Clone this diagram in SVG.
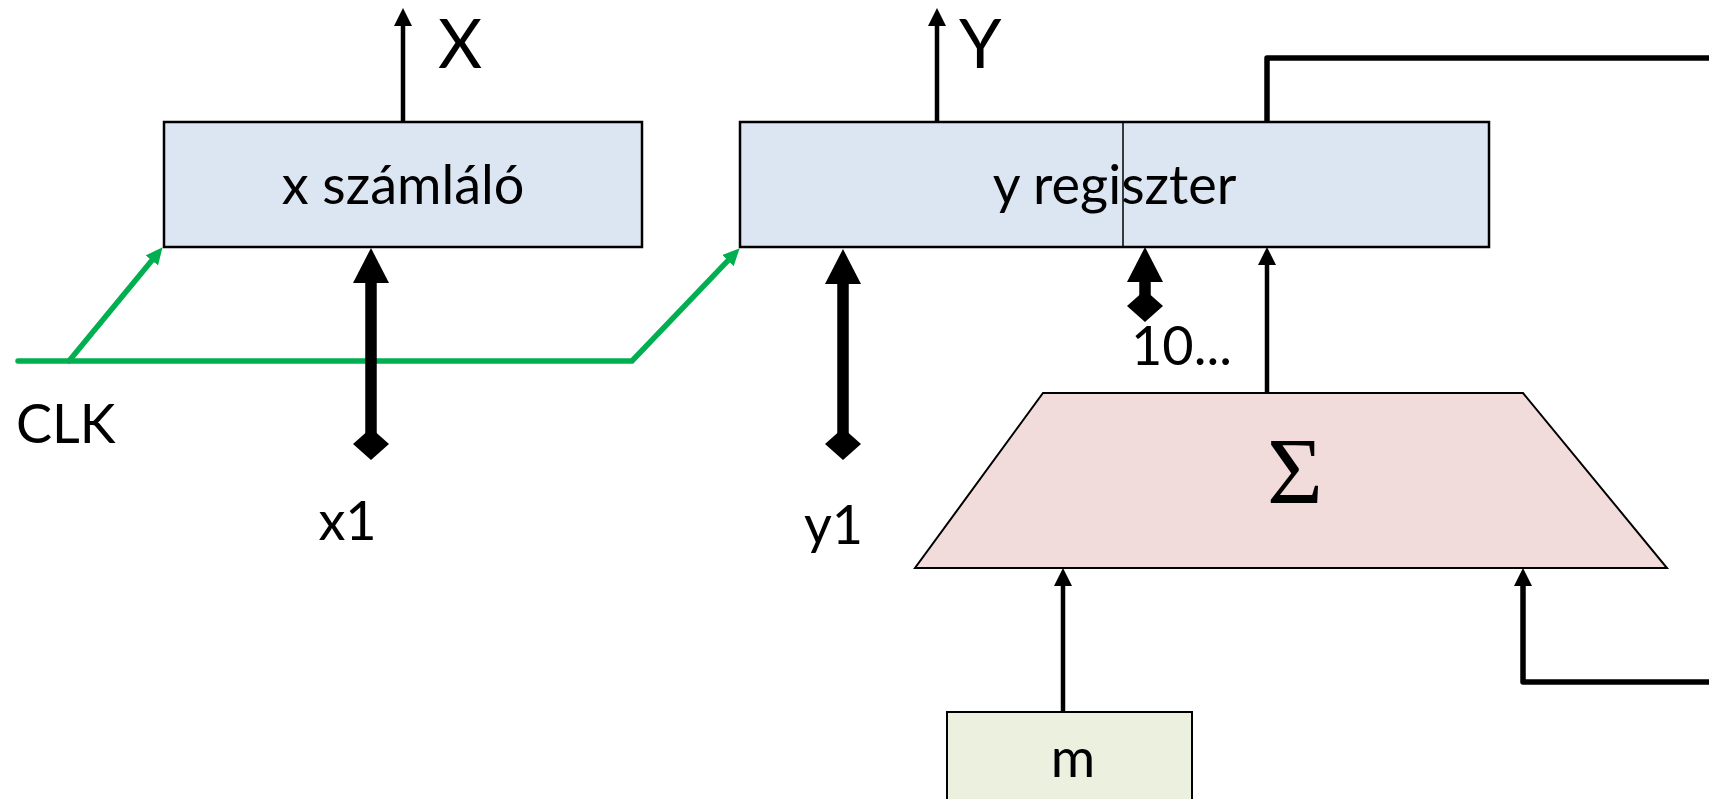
<svg xmlns="http://www.w3.org/2000/svg" width="1709" height="799" viewBox="0 0 1709 799">
<style>
.box{fill:#DCE6F2;stroke:#000;stroke-width:2.5}
.txt{font-family:Lato,"Open Sans","Liberation Sans",sans-serif;font-size:54px;fill:#000}
.big{font-family:Lato,"Open Sans","Liberation Sans",sans-serif;font-size:68px;fill:#000}
.thin{fill:none;stroke:#000;stroke-width:4.5}
.heavy{fill:none;stroke:#000;stroke-width:5.5;stroke-linejoin:round}
.bus{fill:none;stroke:#000;stroke-width:11.5}
.clk{fill:none;stroke:#00B050;stroke-width:5.5;stroke-linecap:round}
</style>
<defs>
<marker id="arS" markerUnits="userSpaceOnUse" markerWidth="18" markerHeight="18" viewBox="0 0 18 18" refX="0" refY="9" orient="auto"><path d="M0,0 L18,9 L0,18 Z" fill="#000"/></marker>
<marker id="arL" markerUnits="userSpaceOnUse" markerWidth="35" markerHeight="36" viewBox="0 0 35 36" refX="0" refY="18" orient="auto"><path d="M0,0 L35,18 L0,36 Z" fill="#000"/></marker>
<marker id="diaL" markerUnits="userSpaceOnUse" markerWidth="32" markerHeight="36" viewBox="0 0 32 36" refX="16" refY="18" orient="auto"><path d="M0,18 L16,0 L32,18 L16,36 Z" fill="#000"/></marker>
<marker id="arG" markerUnits="userSpaceOnUse" markerWidth="17" markerHeight="16" viewBox="0 0 17 16" refX="0" refY="8" orient="auto"><path d="M0,0 L17,8 L0,16 Z" fill="#00B050"/></marker>
</defs>

<g id="x-counter">
<rect class="box" x="164" y="122" width="478" height="125"/>
<text class="txt" x="403" y="204" text-anchor="middle">x számláló</text>
</g>

<g id="y-register">
<rect class="box" x="740" y="122" width="749" height="125"/>
<line x1="1123" y1="122" x2="1123" y2="247" stroke="#000" stroke-width="1.5"/>
<text class="txt" x="1114.5" y="204" text-anchor="middle">y regiszter</text>
</g>

<g id="adder">
<polygon points="1043,393 1523,393 1667,568 915,568" fill="#F2DCDB" stroke="#000" stroke-width="2"/>
<text x="1295" y="504" text-anchor="middle" font-family="'Liberation Serif','DejaVu Serif',serif" font-size="96">Σ</text>
</g>

<g id="m-const">
<rect x="947" y="712" width="245" height="100" fill="#EBF1DE" stroke="#000" stroke-width="2"/>
<text class="txt" x="1073" y="777" text-anchor="middle">m</text>
</g>

<g id="labels">
<text class="big" x="438" y="68">X</text>
<text class="big" x="959" y="68">Y</text>
<text class="txt" x="16" y="443">CLK</text>
<text class="txt" x="347.5" y="540" text-anchor="middle">x1</text>
<text class="txt" x="833.5" y="544" text-anchor="middle">y1</text>
<text class="txt" x="1131" y="365">10...</text>
</g>

<g id="connectors">
<path class="clk" d="M18,361 L632,361 L727.9,260.6" stroke-linejoin="miter" marker-end="url(#arG)"/>
<path class="clk" d="M69,361 L151.8,260.4" marker-end="url(#arG)"/>
<path class="thin" d="M403,122 L403,26" marker-end="url(#arS)"/>
<path class="thin" d="M937,122 L937,26" marker-end="url(#arS)"/>
<path class="bus" d="M371,444 L371,283" marker-start="url(#diaL)" marker-end="url(#arL)"/>
<path class="bus" d="M843,444 L843,284" marker-start="url(#diaL)" marker-end="url(#arL)"/>
<path class="bus" d="M1145,306 L1145,282" marker-start="url(#diaL)" marker-end="url(#arL)"/>
<path class="thin" d="M1267,393 L1267,265" marker-end="url(#arS)"/>
<path class="heavy" d="M1267,122 L1267,58 L1712,58"/>
<path class="thin" d="M1063,712 L1063,586" marker-end="url(#arS)"/>
<path class="heavy" d="M1712,682 L1523,682 L1523,586" marker-end="url(#arS)"/>
</g>
</svg>
